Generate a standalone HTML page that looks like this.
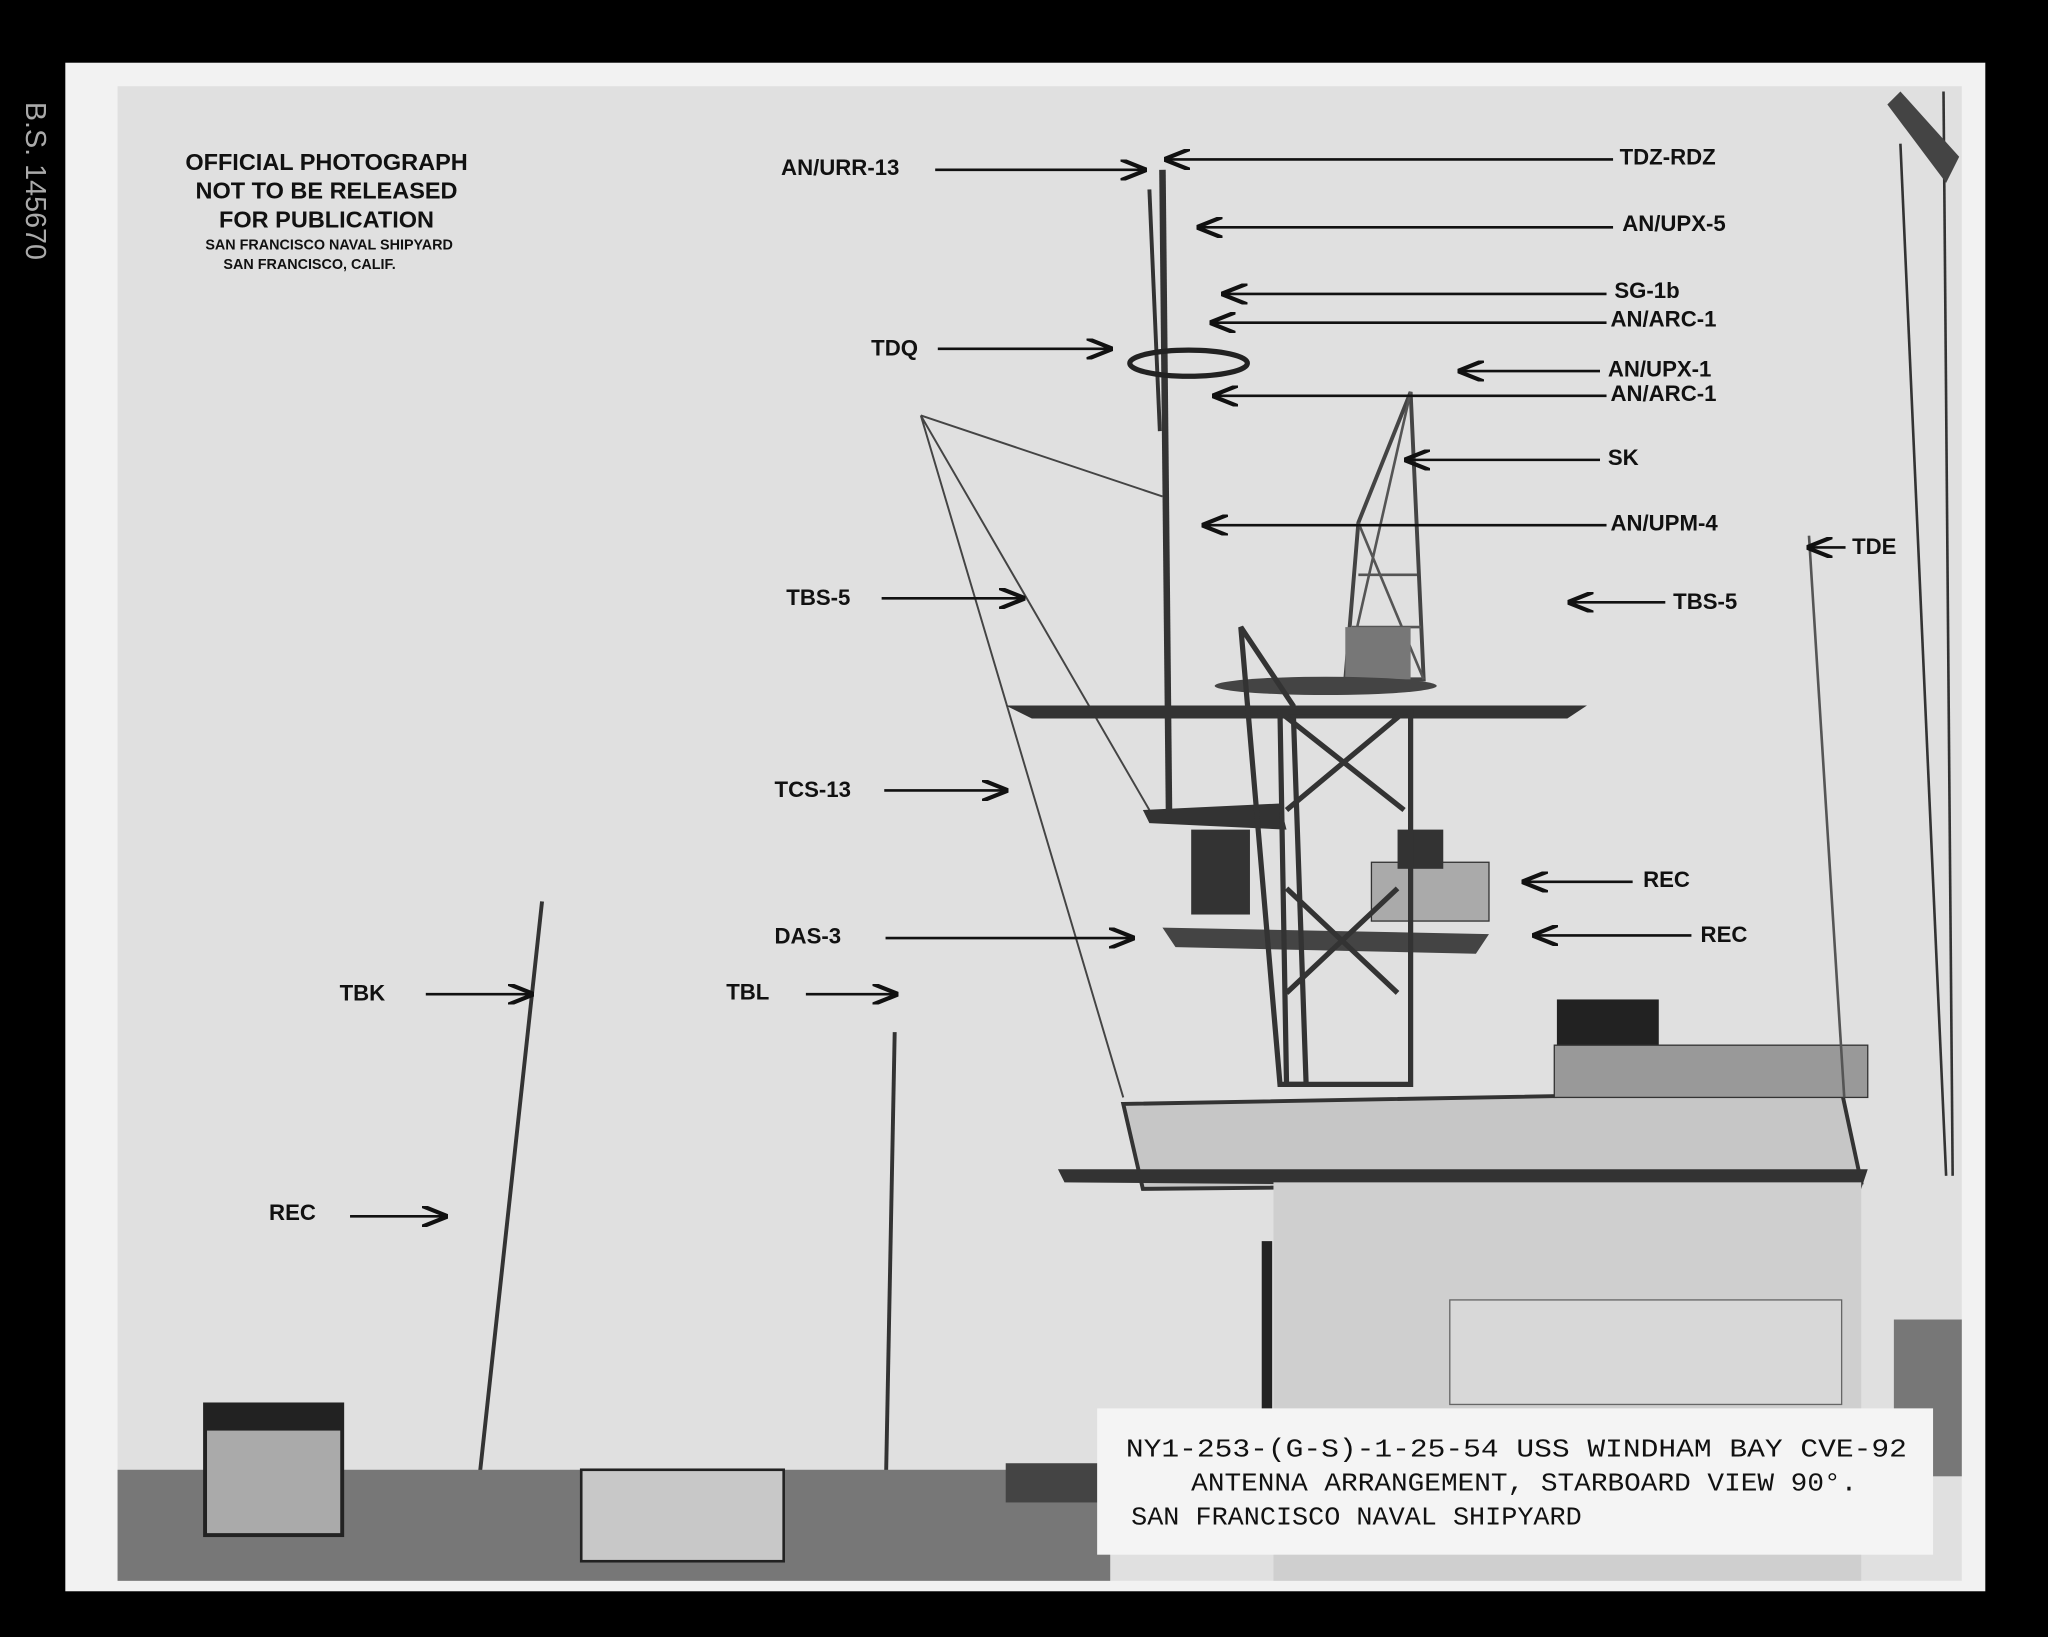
<!DOCTYPE html>
<html><head><meta charset="utf-8"><style>
html,body{margin:0;padding:0;background:#000;}
svg{display:block;}
text{font-family:"Liberation Sans",sans-serif;}
.l{font-family:"Liberation Sans",sans-serif;font-weight:bold;font-size:17px;fill:#111;}
.c{font-family:"Liberation Mono",monospace;font-size:20px;fill:#111;}
</style></head><body>
<svg width="2048" height="1637" viewBox="0 0 1568 1253" preserveAspectRatio="none" xmlns="http://www.w3.org/2000/svg">
<defs><marker id="a" markerWidth="10" markerHeight="8" refX="9" refY="4" orient="auto"><path d="M0,0 L10,4 L0,8" fill="none" stroke="#111" stroke-width="1.6"/></marker></defs>
<rect width="1568" height="1253" fill="#000"/>
<rect x="50" y="48" width="1470" height="1170" fill="#f2f2f2"/>
<rect x="90" y="66" width="1412" height="1144" fill="#e0e0e0"/>
<text x="8" y="90" transform="rotate(90 20 90)" font-size="22" fill="#aaa">B.S. 145670</text>
<g text-anchor="middle" font-weight="bold" fill="#111">
<text x="250" y="130" font-size="18">OFFICIAL PHOTOGRAPH</text>
<text x="250" y="152" font-size="18">NOT TO BE RELEASED</text>
<text x="250" y="174" font-size="18">FOR PUBLICATION</text>
<text x="252" y="191" font-size="11">SAN FRANCISCO NAVAL SHIPYARD</text>
<text x="237" y="206" font-size="11">SAN FRANCISCO, CALIF.</text>
</g>
<line x1="1455" y1="110" x2="1490" y2="900" stroke="#333" stroke-width="2"/>
<line x1="1488" y1="70" x2="1495" y2="900" stroke="#333" stroke-width="2"/>
<path d="M1445,80 L1490,140 L1500,120 L1455,70Z" fill="#444"/>
<line x1="890" y1="130" x2="895" y2="620" stroke="#333" stroke-width="5"/>
<line x1="880" y1="145" x2="888" y2="330" stroke="#333" stroke-width="3"/>
<path d="M1040,400 L1080,300 L1090,520 L1030,520Z" fill="none" stroke="#444" stroke-width="3"/>
<path d="M1040,400 L1090,520 M1080,300 L1030,520 M1040,440 L1085,440 M1035,480 L1088,480" stroke="#555" stroke-width="2"/>
<rect x="1030" y="480" width="50" height="40" fill="#777"/>
<ellipse cx="910" cy="278" rx="45" ry="10" fill="none" stroke="#222" stroke-width="4"/>
<path d="M705,318 L890,380 M705,318 L880,620 M705,318 L860,840" stroke="#444" stroke-width="1.5"/>
<path d="M770,540 L1215,540 L1200,550 L790,550Z" fill="#333"/>
<ellipse cx="1015" cy="525" rx="85" ry="7" fill="#444"/>
<path d="M875,620 L980,615 L985,635 L880,630Z" fill="#333"/>
<path d="M890,710 L1140,715 L1130,730 L900,725Z" fill="#444"/>
<rect x="1050" y="660" width="90" height="45" fill="#aaa" stroke="#333"/>
<rect x="912" y="635" width="45" height="65" fill="#333"/>
<rect x="1070" y="635" width="35" height="30" fill="#333"/>
<path d="M950,480 L990,540 L1000,830 L980,830 Z" fill="none" stroke="#333" stroke-width="4"/>
<path d="M980,545 L1080,545 L1080,830 L985,830Z M980,545 L1075,620 M1075,545 L985,620 M985,680 L1070,760 M1070,680 L985,760" fill="none" stroke="#333" stroke-width="4"/>
<rect x="1192" y="765" width="78" height="40" fill="#222"/>
<path d="M860,845 L1410,835 L1425,905 L875,910Z" fill="#c6c6c6" stroke="#333" stroke-width="3"/>
<rect x="1190" y="800" width="240" height="40" fill="#999" stroke="#333"/>
<path d="M810,895 L1430,895 L1425,910 L815,905Z" fill="#333"/>
<rect x="975" y="905" width="450" height="305" fill="#cfcfcf"/>
<line x1="970" y1="950" x2="970" y2="1100" stroke="#222" stroke-width="8"/>
<rect x="1110" y="995" width="300" height="80" fill="#d8d8d8" stroke="#666"/>
<rect x="1450" y="1010" width="52" height="120" fill="#777"/>
<line x1="415" y1="690" x2="365" y2="1150" stroke="#333" stroke-width="3"/>
<line x1="685" y1="790" x2="678" y2="1150" stroke="#333" stroke-width="3"/>
<line x1="1385" y1="410" x2="1412" y2="840" stroke="#555" stroke-width="2"/>
<rect x="90" y="1125" width="760" height="85" fill="#777"/>
<rect x="157" y="1075" width="105" height="100" fill="#aaa" stroke="#222" stroke-width="3"/>
<rect x="157" y="1075" width="105" height="20" fill="#222"/>
<rect x="445" y="1125" width="155" height="70" fill="#c8c8c8" stroke="#222" stroke-width="2"/>
<rect x="770" y="1120" width="75" height="30" fill="#444"/>
<rect x="840" y="1078" width="640" height="112" fill="#f4f4f4"/>
<text class="c" x="862" y="1115" textLength="598" lengthAdjust="spacingAndGlyphs">NY1-253-(G-S)-1-25-54   USS WINDHAM BAY CVE-92</text>
<text class="c" x="912" y="1141" textLength="510" lengthAdjust="spacingAndGlyphs">ANTENNA ARRANGEMENT, STARBOARD VIEW 90°.</text>
<text class="c" x="866" y="1167" textLength="345" lengthAdjust="spacingAndGlyphs">SAN FRANCISCO NAVAL SHIPYARD</text>
<g stroke="#111" stroke-width="2" marker-end="url(#a)">
<line x1="716" y1="130" x2="876" y2="130"/>
<line x1="1235" y1="122" x2="893" y2="122"/>
<line x1="1235" y1="174" x2="918" y2="174"/>
<line x1="1230" y1="225" x2="937" y2="225"/>
<line x1="1230" y1="247" x2="928" y2="247"/>
<line x1="718" y1="267" x2="850" y2="267"/>
<line x1="1225" y1="284" x2="1118" y2="284"/>
<line x1="1230" y1="303" x2="930" y2="303"/>
<line x1="1225" y1="352" x2="1077" y2="352"/>
<line x1="1230" y1="402" x2="922" y2="402"/>
<line x1="1413" y1="419" x2="1385" y2="419"/>
<line x1="675" y1="458" x2="783" y2="458"/>
<line x1="1275" y1="461" x2="1202" y2="461"/>
<line x1="677" y1="605" x2="770" y2="605"/>
<line x1="1250" y1="675" x2="1167" y2="675"/>
<line x1="678" y1="718" x2="867" y2="718"/>
<line x1="1295" y1="716" x2="1175" y2="716"/>
<line x1="326" y1="761" x2="407" y2="761"/>
<line x1="617" y1="761" x2="686" y2="761"/>
<line x1="268" y1="931" x2="341" y2="931"/>
</g>
<text class="l" x="598" y="134">AN/URR-13</text>
<text class="l" x="1240" y="126">TDZ-RDZ</text>
<text class="l" x="1242" y="177">AN/UPX-5</text>
<text class="l" x="1236" y="228">SG-1b</text>
<text class="l" x="1233" y="250">AN/ARC-1</text>
<text class="l" x="667" y="272">TDQ</text>
<text class="l" x="1231" y="288">AN/UPX-1</text>
<text class="l" x="1233" y="307">AN/ARC-1</text>
<text class="l" x="1231" y="356">SK</text>
<text class="l" x="1233" y="406">AN/UPM-4</text>
<text class="l" x="1418" y="424">TDE</text>
<text class="l" x="602" y="463">TBS-5</text>
<text class="l" x="1281" y="466">TBS-5</text>
<text class="l" x="593" y="610">TCS-13</text>
<text class="l" x="1258" y="679">REC</text>
<text class="l" x="593" y="722">DAS-3</text>
<text class="l" x="1302" y="721">REC</text>
<text class="l" x="260" y="766">TBK</text>
<text class="l" x="556" y="765">TBL</text>
<text class="l" x="206" y="934">REC</text>
</svg>
</body></html>
